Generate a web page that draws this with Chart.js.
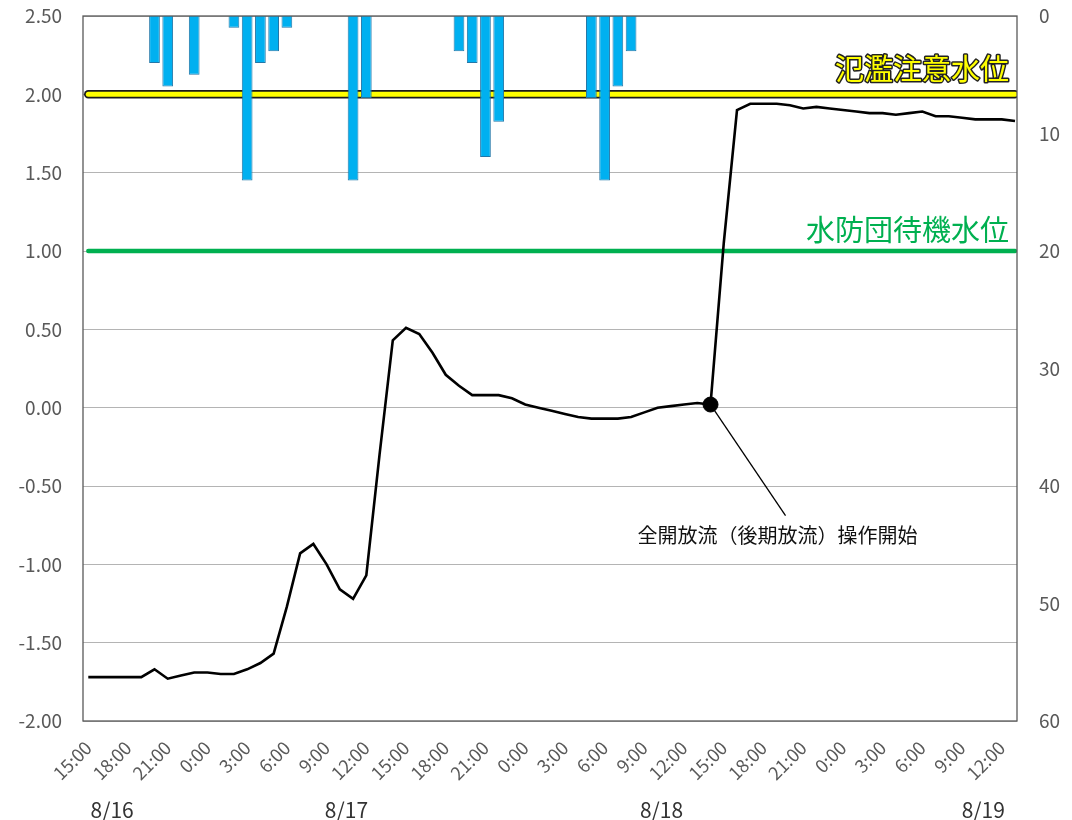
<!DOCTYPE html>
<html lang="ja">
<head>
<meta charset="utf-8">
<title>水位と雨量</title>
<script src="https://cdn.jsdelivr.net/npm/chart.js@4.4.1/dist/chart.umd.min.js"></script>
<style>
  html, body { margin: 0; padding: 0; background: #fff; }
  #wrap { width: 1072px; height: 820px; position: relative; }
</style>
</head>
<body>
<div id="wrap"><canvas id="levelChart"></canvas></div>
<script>
// 1時間ごとの観測値 (8/16 15:00 から 8/19 13:00 まで)
const tickLabels = [
  "15:00", "18:00", "21:00", "0:00", "3:00", "6:00", "9:00", "12:00",
  "15:00", "18:00", "21:00", "0:00", "3:00", "6:00", "9:00", "12:00",
  "15:00", "18:00", "21:00", "0:00", "3:00", "6:00", "9:00", "12:00"
];
const dayLabels = ["8/16", "8/17", "8/18", "8/19"];

// 水位 (m)
const waterLevel = [
  -1.72, -1.72, -1.72, -1.72, -1.72, -1.67, -1.73, -1.71, -1.69, -1.69, -1.70, -1.70,
  -1.67, -1.63, -1.57, -1.27, -0.93, -0.87, -1.00, -1.16, -1.22, -1.07, -0.30, 0.43,
  0.51, 0.47, 0.35, 0.21, 0.14, 0.08, 0.08, 0.08, 0.06, 0.02, 0.00, -0.02,
  -0.04, -0.06, -0.07, -0.07, -0.07, -0.06, -0.03, 0.00, 0.01, 0.02, 0.03, 0.02,
  1.05, 1.90, 1.94, 1.94, 1.94, 1.93, 1.91, 1.92, 1.91, 1.90, 1.89, 1.88,
  1.88, 1.87, 1.88, 1.89, 1.86, 1.86, 1.85, 1.84, 1.84, 1.84, 1.83
];

// 時間雨量 (mm)
const rainfall = [
  null, null, null, null, null, 4, 6, null, 5, null, null, 1,
  14, 4, 3, 1, null, null, null, null, 14, 7, null, null,
  null, null, null, null, 3, 4, 12, 9, null, null, null, null,
  null, null, 7, 14, 6, 3, null, null, null, null, null, null,
  null, null, null, null, null, null, null, null, null, null, null, null,
  null, null, null, null, null, null, null, null, null, null, null
];

const levelNames = ["氾濫注意水位", "水防団待機水位"];
const levelValues = [2.0, 1.0];

const releaseStartHour = 47;
const releaseStartLabel = "全開放流（後期放流）操作開始";

const FONT = '"Noto Sans CJK JP", "Noto Sans", sans-serif';
const lastHour = waterLevel.length - 1;
const toPoints = (values) => values.map((v, hour) => ({ x: hour, y: v }));
const levelLine = (value) => [{ x: 0, y: value }, { x: lastHour, y: value }];

// 縦軸の幅を固定し、ラベル分の上下余白を消す
const fixWidth = (w) => (scale) => {
  scale.width = w;
  scale.paddingTop = 0;
  scale.paddingBottom = 0;
};

// 注記・枠・日付を描く
const overlay = {
  id: "overlay",
  afterDatasetsDraw(chart) {
    const { ctx, scales } = chart;
    const x = scales.x, y = scales.y;
    ctx.save();

    // 基準水位の名前
    ctx.font = "29px " + FONT;
    ctx.textAlign = "right";
    ctx.textBaseline = "middle";
    const ly0 = y.getPixelForValue(levelValues[0]) - 25;
    ctx.lineJoin = "round";
    ctx.lineWidth = 3;
    ctx.strokeStyle = "#222";
    ctx.strokeText(levelNames[0], 1009, ly0);
    ctx.fillStyle = "#FFFF00";
    ctx.fillText(levelNames[0], 1009, ly0);

    ctx.fillStyle = "#00B050";
    ctx.fillText(levelNames[1], 1009, y.getPixelForValue(levelValues[1]) - 21);

    // 全開放流の引出線と文字
    const px = x.getPixelForValue(releaseStartHour);
    const py = y.getPixelForValue(waterLevel[releaseStartHour]);
    ctx.strokeStyle = "#000";
    ctx.lineWidth = 1.3;
    ctx.beginPath();
    ctx.moveTo(px, py);
    ctx.lineTo(px + 75, py + 111);
    ctx.stroke();
    ctx.font = "20px " + FONT;
    ctx.fillStyle = "#111";
    ctx.textAlign = "center";
    ctx.fillText(releaseStartLabel, px + 67, py + 131);
    ctx.restore();
  },
  afterDraw(chart) {
    const { ctx, chartArea: a, scales } = chart;
    ctx.save();
    ctx.strokeStyle = "#595959";
    ctx.lineWidth = 1.3;
    ctx.strokeRect(a.left, a.top, a.right - a.left, a.bottom - a.top);

    const dayHours = [1.8, 19.5, 43.3, 67.6];
    ctx.font = "21px " + FONT;
    ctx.fillStyle = "#333";
    ctx.textAlign = "center";
    ctx.textBaseline = "middle";
    dayLabels.forEach((d, i) => {
      ctx.fillText(d, scales.x.getPixelForValue(dayHours[i]), 810);
    });
    ctx.restore();
  }
};

new Chart(document.getElementById("levelChart").getContext("2d"), {
  type: "line",
  data: {
    datasets: [
      {
        type: "bar",
        label: "雨量",
        yAxisID: "y2",
        data: toPoints(rainfall),
        backgroundColor: "#00B0F0",
        borderColor: "#2377a8",
        borderWidth: 1,
        barPercentage: 0.9,
        categoryPercentage: 0.9,
        order: 0
      },
      {
        label: "操作開始",
        data: [{ x: releaseStartHour, y: waterLevel[releaseStartHour] }],
        showLine: false,
        pointRadius: 7.5,
        pointBackgroundColor: "#000",
        pointBorderColor: "#000",
        order: 0
      },
      {
        label: "水位",
        data: toPoints(waterLevel),
        borderColor: "#000",
        borderWidth: 2.6,
        pointRadius: 0,
        tension: 0,
        order: 1
      },
      {
        label: levelNames[0],
        data: levelLine(levelValues[0]),
        borderColor: "#FFFF00",
        borderWidth: 5,
        borderCapStyle: "round",
        pointRadius: 0,
        order: 2
      },
      {
        label: levelNames[0] + "枠",
        data: levelLine(levelValues[0]),
        borderColor: "#1a1a1a",
        borderWidth: 8.5,
        borderCapStyle: "round",
        pointRadius: 0,
        order: 3
      },
      {
        label: levelNames[1],
        data: levelLine(levelValues[1]),
        borderColor: "#00B050",
        borderWidth: 4.5,
        borderCapStyle: "round",
        pointRadius: 0,
        order: 2
      }
    ]
  },
  options: {
    responsive: true,
    maintainAspectRatio: false,
    animation: false,
    layout: { padding: { top: 16, left: 0, right: 0, bottom: 0 } },
    plugins: { legend: { display: false }, tooltip: { enabled: false } },
    scales: {
      x: {
        type: "linear",
        min: -0.4,
        max: 70.15,
        offset: false,
        grid: { display: false, offset: false, drawTicks: false },
        border: { display: false },
        afterBuildTicks: (scale) => {
          scale.ticks = tickLabels.map((_, i) => ({ value: i * 3 }));
        },
        afterFit: (scale) => { scale.height = 99; },
        ticks: {
          autoSkip: false,
          minRotation: 45,
          maxRotation: 45,
          padding: 16,
          color: "#595959",
          font: { family: FONT, size: 18 },
          callback: (value, index) => tickLabels[index]
        }
      },
      y: {
        position: "left",
        min: -2,
        max: 2.5,
        grid: { color: "#b4b4b4", lineWidth: 1, drawTicks: false },
        border: { display: false },
        afterFit: fixWidth(83),
        ticks: {
          stepSize: 0.5,
          padding: 21,
          color: "#595959",
          font: { family: FONT, size: 19 },
          callback: (v) => v.toFixed(2)
        }
      },
      y2: {
        position: "right",
        min: 0,
        max: 60,
        reverse: true,
        grid: { display: false, drawTicks: false },
        border: { display: false },
        afterFit: fixWidth(55),
        ticks: {
          stepSize: 10,
          padding: 22,
          color: "#595959",
          font: { family: FONT, size: 19 }
        }
      }
    }
  },
  plugins: [overlay]
});
</script>
</body>
</html>
